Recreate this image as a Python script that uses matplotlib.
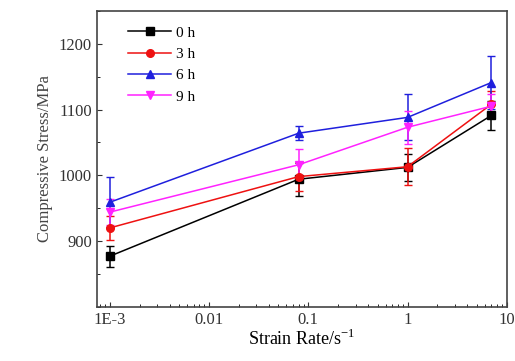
import numpy as np
import matplotlib.pyplot as plt

plt.rcParams['font.family'] = ['Liberation Serif', 'DejaVu Serif']

### data
strain_rate = [0.001, 0.08, 1.0, 7.0]
labels = ["0 h", "3 h", "6 h", "9 h"]
stress_0h = [877, 994, 1012, 1091]
stress_3h = [920, 998, 1013, 1108]
stress_6h = [959, 1064, 1088, 1141]
stress_9h = [944, 1016, 1073, 1105]
err_0h = [16, 25, 20, 22]
err_3h = [18, 22, 28, 20]
err_6h = [38, 11, 35, 40]
err_9h = [20, 24, 25, 18]

series = [stress_0h, stress_3h, stress_6h, stress_9h]
errors = [err_0h, err_3h, err_6h, err_9h]
colors = ["black", "#ee1111", "#1f1fdd", "#ff22ff"]
markers = ["s", "o", "^", "v"]

fig, ax = plt.subplots(figsize=(5.15, 3.61), dpi=100)
fig.subplots_adjust(left=0.188, right=0.984, top=0.97, bottom=0.15)

handles = []
for y, e, c, m, lab in zip(series, errors, colors, markers, labels):
    cont = ax.errorbar(strain_rate, y, yerr=e, color=c, marker=m, markersize=5.5,
                       linewidth=1.1, elinewidth=1.1, capsize=3, label=lab)
    handles.append(cont.lines[0])

ax.set_xscale("log")
ax.set_xlim(7.4e-4, 10)
ax.set_ylim(800, 1250)
ax.set_xticks([0.001, 0.01, 0.1, 1, 10])
ax.set_xticklabels(["1E-3", "0.01", "0.1", "1", "10"])
ax.set_yticks([900, 1000, 1100, 1200])
ax.set_yticks(np.arange(800, 1251, 50), minor=True)
ax.tick_params(direction="in", labelsize=12, colors="#333333")
ax.tick_params(which="minor", direction="in")
for s in ax.spines.values():
    s.set_color("#444444")
    s.set_linewidth(1.2)

ax.set_xlabel("Strain Rate/s$^{\\mathregular{-1}}$", fontsize=13, labelpad=1)
ax.set_ylabel("Compressive Stress/MPa", fontsize=12, color="#444444")
ax.legend(handles, labels, loc="upper left", bbox_to_anchor=(0.04, 1.0),
          frameon=False, fontsize=11, handlelength=2.8, handletextpad=0.3,
          borderaxespad=0.6, labelspacing=0.5)

plt.savefig("out.png")
